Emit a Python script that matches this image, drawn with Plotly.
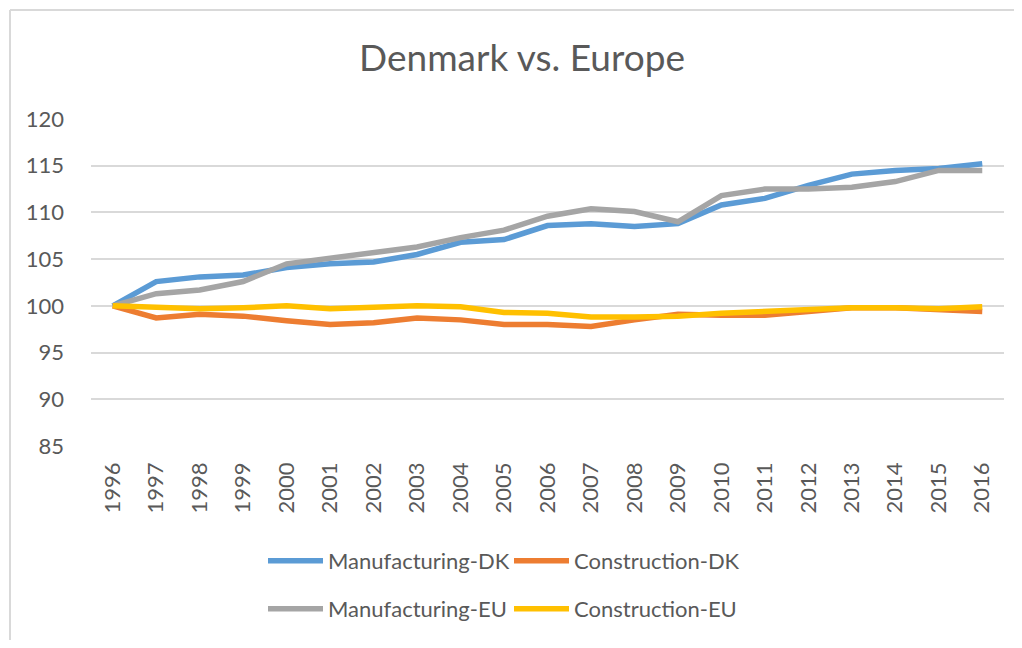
import plotly.graph_objects as go

years = [str(y) for y in range(1996, 2017)]
mfg_dk = [100, 102.6, 103.1, 103.3, 104.1, 104.5, 104.7, 105.5, 106.8, 107.1, 108.6,
          108.8, 108.5, 108.8, 110.8, 111.5, 112.9, 114.1, 114.5, 114.7, 115.2]
con_dk = [100, 98.7, 99.1, 98.9, 98.4, 98.0, 98.2, 98.7, 98.5, 98.0, 98.0,
          97.8, 98.5, 99.1, 99.0, 99.0, 99.4, 99.8, 99.8, 99.6, 99.4]
mfg_eu = [100, 101.3, 101.7, 102.6, 104.5, 105.1, 105.7, 106.3, 107.3, 108.1, 109.6,
          110.4, 110.1, 109.0, 111.8, 112.5, 112.5, 112.7, 113.3, 114.5, 114.5]
con_eu = [100, 99.8, 99.7, 99.8, 100.0, 99.7, 99.9, 100.0, 99.9, 99.3, 99.2,
          98.8, 98.8, 98.9, 99.2, 99.4, 99.7, 99.8, 99.8, 99.7, 99.9]
y_ticks = [85, 90, 95, 100, 105, 110, 115, 120]

series = [
    ("Manufacturing-DK", mfg_dk, "#5B9BD5", "legend"),
    ("Construction-DK", con_dk, "#ED7D31", "legend"),
    ("Manufacturing-EU", mfg_eu, "#A5A5A5", "legend2"),
    ("Construction-EU", con_eu, "#FFC000", "legend2"),
]

FONT = "Lato"
TXT = "#595959"
GRID = "#D9D9D9"

fig = go.Figure()
for name, vals, col, lg in series:
    fig.add_trace(go.Scatter(x=years, y=vals, name=name, mode="lines",
                             line=dict(color=col, width=5.5), legend=lg))

OFF = 8  # page body margin
W, H = 1022 - 2 * OFF, 648 - 2 * OFF
L, T = 91 - OFF, 119 - OFF
R = W - (1004 - OFF)
B = H - (446 - OFF)
pw, ph = W - L - R, H - T - B

def px(x):
    return (x - OFF - L) / pw

def py(y):
    return (H - B - (y - OFF)) / ph

legend_common = dict(orientation="h", font=dict(family=FONT, size=22, color=TXT),
                     itemwidth=55, entrywidth=176, entrywidthmode="pixels",
                     xanchor="left", yanchor="middle", bgcolor="rgba(0,0,0,0)",
                     tracegroupgap=0, itemclick=False)

border = dict(color=GRID, width=2)
fig.update_layout(
    width=W, height=H,
    margin=dict(l=L, r=R, t=T, b=B),
    paper_bgcolor="white", plot_bgcolor="white",
    font=dict(family=FONT, color=TXT),
    title=dict(text="Denmark vs. Europe", x=(522 - OFF) / W, xanchor="center", xref="container",
               y=1 - (58 - OFF) / H, yanchor="middle", yref="container",
               font=dict(family=FONT, size=37, color=TXT)),
    xaxis=dict(type="category", range=[-0.5, 20.5], tickangle=-90, showgrid=False,
               showline=False, ticks="", ticklabelstandoff=11,
               tickfont=dict(family=FONT, size=22, color=TXT), zeroline=False,
               fixedrange=True),
    yaxis=dict(range=[85, 120], tickvals=y_ticks, showgrid=True, gridcolor=GRID,
               gridwidth=1.5, zeroline=False, showline=False, ticks="",
               ticklabelstandoff=26, tickfont=dict(family=FONT, size=22, color=TXT),
               fixedrange=True),
    legend=dict(x=px(263), y=py(561), **legend_common),
    legend2=dict(x=px(263), y=py(609), **legend_common),
    shapes=[
        dict(type="line", xref="paper", yref="paper", x0=px(10), x1=px(1030),
             y0=py(10), y1=py(10), line=border, layer="below"),
        dict(type="line", xref="paper", yref="paper", x0=px(10), x1=px(10),
             y0=py(10), y1=py(660), line=border, layer="below"),
    ],
)

fig.write_html("out.html")
